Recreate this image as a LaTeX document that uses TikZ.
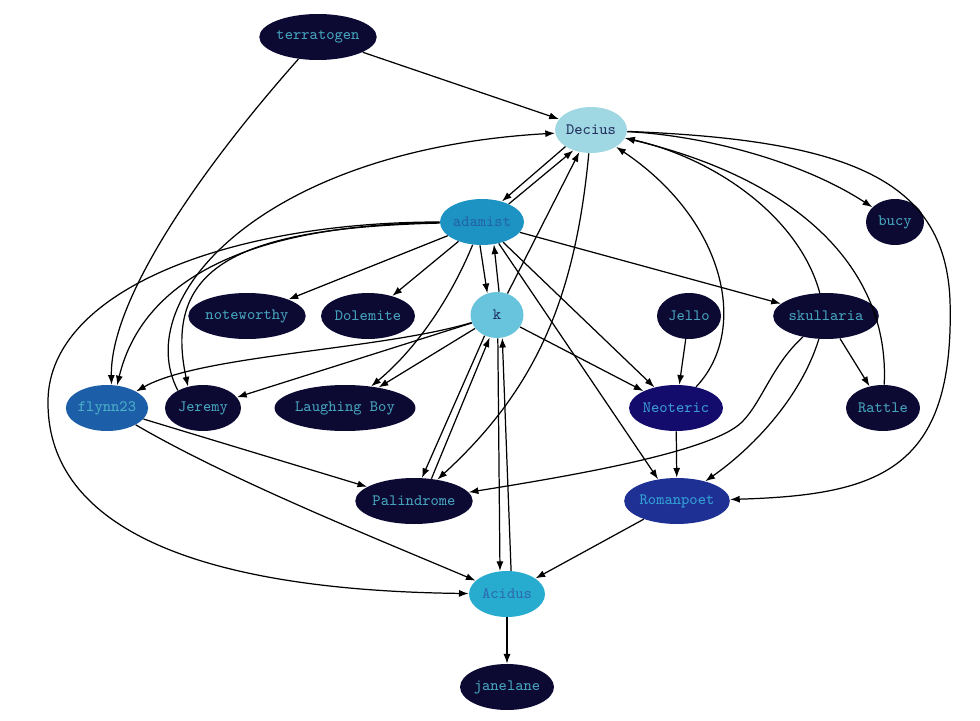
\documentclass[tikz,border=0pt]{standalone}
\usepackage{tikz}
\usetikzlibrary{arrows.meta, positioning, shapes.geometric}

\definecolor{navyfill}{HTML}{0C0933}
\definecolor{tealtext}{HTML}{45A3BC}
\definecolor{deciusfill}{HTML}{9FD8E3}
\definecolor{deciustext}{HTML}{23305E}
\definecolor{adamistfill}{HTML}{1D93C3}
\definecolor{adamisttext}{HTML}{2263A6}
\definecolor{kfill}{HTML}{68C3DC}
\definecolor{ktext}{HTML}{1B2B5B}
\definecolor{flynnfill}{HTML}{1C5EA7}
\definecolor{flynntext}{HTML}{4BB0C9}
\definecolor{neotericfill}{HTML}{140C6C}
\definecolor{neoterictext}{HTML}{3B9AD4}
\definecolor{romanfill}{HTML}{1F3095}
\definecolor{romantext}{HTML}{32A0D5}
\definecolor{acidusfill}{HTML}{27ACD0}
\definecolor{acidustext}{HTML}{2E6AAF}

\begin{document}
\begin{tikzpicture}[x=0.02cm, y=-0.02cm, >={Latex[length=5.5pt,width=4pt]},
    user/.style={ellipse, minimum height=0.92cm, inner sep=0pt, font=\ttfamily\fontsize{9}{10}\selectfont},
    quiet/.style={user, fill=navyfill, text=tealtext},
    link/.style={->, line width=0.7pt}]
    \useasboundingbox[fill=white] (0,0) rectangle (980,720);

    % Top rows
    \node[quiet, minimum width=2.16cm] (terratogen) at (318,37) {terratogen};
    \node[user, fill=deciusfill, text=deciustext, minimum width=1.44cm] (decius) at (591,130) {Decius};
    \node[user, fill=adamistfill, text=adamisttext, minimum width=1.68cm] (adamist) at (482,222) {adamist};
    \node[quiet, minimum width=1.16cm] (bucy) at (895,222) {bucy};

    % Middle row
    \node[quiet, minimum width=2.24cm] (noteworthy) at (247,316) {noteworthy};
    \node[quiet, minimum width=1.84cm] (dolemite) at (368,316) {Dolemite};
    \node[user, fill=kfill, text=ktext, minimum width=1.06cm] (k) at (497,315) {k};
    \node[quiet, minimum width=1.28cm] (jello) at (689,316) {Jello};
    \node[quiet, minimum width=1.92cm] (skullaria) at (826,316) {skullaria};

    \node[user, fill=flynnfill, text=flynntext, minimum width=1.6cm] (flynn) at (107,408) {flynn23};
    \node[quiet, minimum width=1.52cm] (jeremy) at (203,408) {Jeremy};
    \node[quiet, minimum width=2.64cm] (laughing) at (345,408) {Laughing Boy};
    \node[user, fill=neotericfill, text=neoterictext, minimum width=1.8cm] (neoteric) at (676,408) {Neoteric};
    \node[quiet, minimum width=1.48cm] (rattle) at (883,408) {Rattle};

    % Bottom rows
    \node[quiet, minimum width=2.2cm] (palindrome) at (414,501) {Palindrome};
    \node[user, fill=romanfill, text=romantext, minimum width=2.08cm] (romanpoet) at (677,501) {Romanpoet};
    \node[user, fill=acidusfill, text=acidustext, minimum width=1.52cm] (acidus) at (507,594) {Acidus};
    \node[quiet, minimum width=1.8cm] (janelane) at (507,687) {janelane};

    % Links out of terratogen and Decius
    \draw[link] (terratogen) -- (decius);
    \draw[link] (terratogen) .. controls (200,170) and (110,300) .. (flynn.79);
    \draw[link] (decius.213) -- (adamist.46);
    \draw[link] (decius) .. controls (700,135) and (800,160) .. (bucy);
    \draw[link] (decius) .. controls (575,300) and (535,390) .. (palindrome);
    \draw[link] (decius) .. controls (850,140) and (945,180) .. (950,300)
        .. controls (955,470) and (880,495) .. (romanpoet);

    % Links out of adamist
    \draw[link] (adamist.34) -- (decius.229);
    \draw[link] (adamist.265) -- (k.114);
    \draw[link] (adamist) -- (noteworthy);
    \draw[link] (adamist) -- (dolemite);
    \draw[link] (adamist) .. controls (450,300) and (415,350) .. (laughing);
    \draw[link] (adamist) .. controls (230,225) and (140,290) .. (flynn.66);
    \draw[link] (adamist) .. controls (240,228) and (162,265) .. (jeremy.125);
    \draw[link] (adamist) .. controls (230,222) and (50,290) .. (48,400)
        .. controls (46,520) and (180,590) .. (acidus);
    \draw[link] (adamist) -- (skullaria);
    \draw[link] (adamist) -- (neoteric);
    \draw[link] (adamist.308) -- (romanpoet.131);

    % Links out of k
    \draw[link] (k.64) -- (decius.242);
    \draw[link] (k.85) -- (adamist.298);
    \draw[link] (k) -- (laughing);
    \draw[link] (k) -- (jeremy);
    \draw[link] (k) .. controls (380,350) and (200,355) .. (flynn);
    \draw[link] (k) -- (neoteric);
    \draw[link] (k.239) -- (palindrome.71);
    \draw[link] (k.272) -- (acidus.107);

    % Links back up
    \draw[link] (jeremy.145) .. controls (130,300) and (260,150) .. (decius.185);
    \draw[link] (palindrome.52) -- (k.252);
    \draw[link] (acidus.80) -- (k.283);
    \draw[link] (neoteric) .. controls (750,330) and (725,220) .. (decius);
    \draw[link] (skullaria) .. controls (800,220) and (720,160) .. (decius);
    \draw[link] (rattle) .. controls (890,270) and (800,180) .. (decius);

    % Right side
    \draw[link] (jello) -- (neoteric);
    \draw[link] (neoteric) -- (romanpoet);
    \draw[link] (skullaria) -- (rattle);
    \draw[link] (skullaria) .. controls (800,400) and (750,450) .. (romanpoet);
    \draw[link] (skullaria) .. controls (772,365) and (762,402) .. (742,422)
        .. controls (712,452) and (570,476) .. (palindrome);

    % Lower part
    \draw[link] (flynn) -- (palindrome);
    \draw[link] (flynn) .. controls (230,480) and (380,540) .. (acidus);
    \draw[link] (romanpoet) -- (acidus);
    \draw[link] (acidus) -- (janelane);
\end{tikzpicture}
\end{document}
